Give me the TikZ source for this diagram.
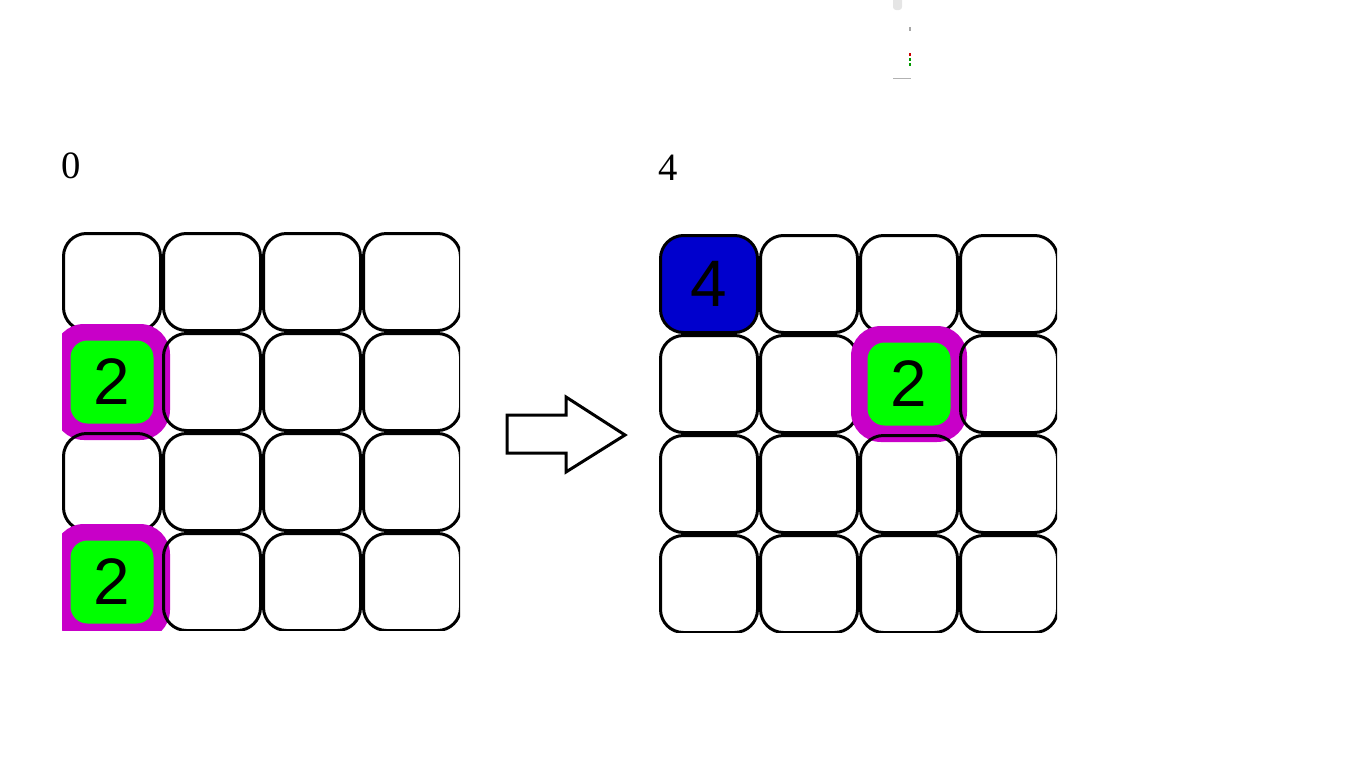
\documentclass[tikz,border=0pt]{standalone}
\usepackage{fontspec}
\setmainfont{Liberation Serif}
\newfontfamily\tilefont{Liberation Sans}
\usepackage{tikz}

\definecolor{ringcol}{RGB}{200,0,200}
\definecolor{tilecol}{RGB}{0,255,0}
\definecolor{bluecol}{RGB}{0,0,205}

\tikzset{
  cell/.style={draw,line width=0.03cm,rounded corners=0.23cm,minimum size=0.97cm,inner sep=0pt},
  ring/.style={fill=ringcol,rounded corners=0.3cm,minimum size=1.16cm,inner sep=0pt},
  tile/.style={fill=tilecol,rounded corners=0.17cm,minimum size=0.83cm,inner sep=0pt,font=\tilefont\fontsize{18.7}{20}\selectfont},
  bluecell/.style={cell,fill=bluecol,font=\tilefont\fontsize{18.7}{20}\selectfont},
  score/.style={font=\fontsize{11}{13}\selectfont}
}

\begin{document}
\begin{tikzpicture}[x=1cm,y=-1cm]
\useasboundingbox (0,0) rectangle (13.66,7.68);

% bits at the top
\fill[black!10,rounded corners=0.03cm] (8.93,-0.05) rectangle (9.02,0.1);
\fill[black!35] (9.09,0.27) rectangle (9.11,0.31);
\fill[red!80!black] (9.09,0.53) rectangle (9.11,0.56);
\fill[green!60!black] (9.09,0.58) rectangle (9.11,0.61);
\fill[green!60!black] (9.09,0.63) rectangle (9.11,0.66);
\fill[black!30] (8.93,0.775) rectangle (9.11,0.785);

\node[score] (scoreA) at (0.71,1.66) {0};
\node[score] (scoreB) at (6.68,1.68) {4};

% left board
\begin{scope}
\clip (0.62,2.32) rectangle (4.60,6.30);
\foreach \col in {0,...,3}
  \node[cell] (a0\col) at (1.12+\col,2.82) {};
\node[cell] (a10) at (1.12,3.82) {};
\node[ring] (r1) at (a10) {};
\node[tile] (t1) at (a10) {2};
\foreach \col in {1,2,3}
  \node[cell] (a1\col) at (1.12+\col,3.82) {};
\foreach \col in {0,...,3}
  \node[cell] (a2\col) at (1.12+\col,4.82) {};
\node[cell] (a30) at (1.12,5.82) {};
\node[ring] (r2) at (a30) {};
\node[tile] (t2) at (a30) {2};
\foreach \col in {1,2,3}
  \node[cell] (a3\col) at (1.12+\col,5.82) {};
\end{scope}

% arrow
\draw[line width=0.03cm,miter limit=10] (5.07,4.15) -- (5.66,4.15) -- (5.66,3.97) -- (6.25,4.35)
  -- (5.66,4.72) -- (5.66,4.53) -- (5.07,4.53) -- cycle;

% right board
\begin{scope}
\clip (6.59,2.34) rectangle (10.57,6.32);
\node[bluecell] (b00) at (7.09,2.84) {4};
\foreach \col in {1,2,3}
  \node[cell] (b0\col) at (7.09+\col,2.84) {};
\foreach \col in {0,1,2}
  \node[cell] (b1\col) at (7.09+\col,3.84) {};
\node[ring] (r3) at (b12) {};
\node[tile] (t3) at (b12) {2};
\node[cell] (b13) at (10.09,3.84) {};
\foreach \row in {2,3}
  \foreach \col in {0,...,3}
    \node[cell] (b\row\col) at (7.09+\col,2.84+\row) {};
\end{scope}
\end{tikzpicture}
\end{document}
